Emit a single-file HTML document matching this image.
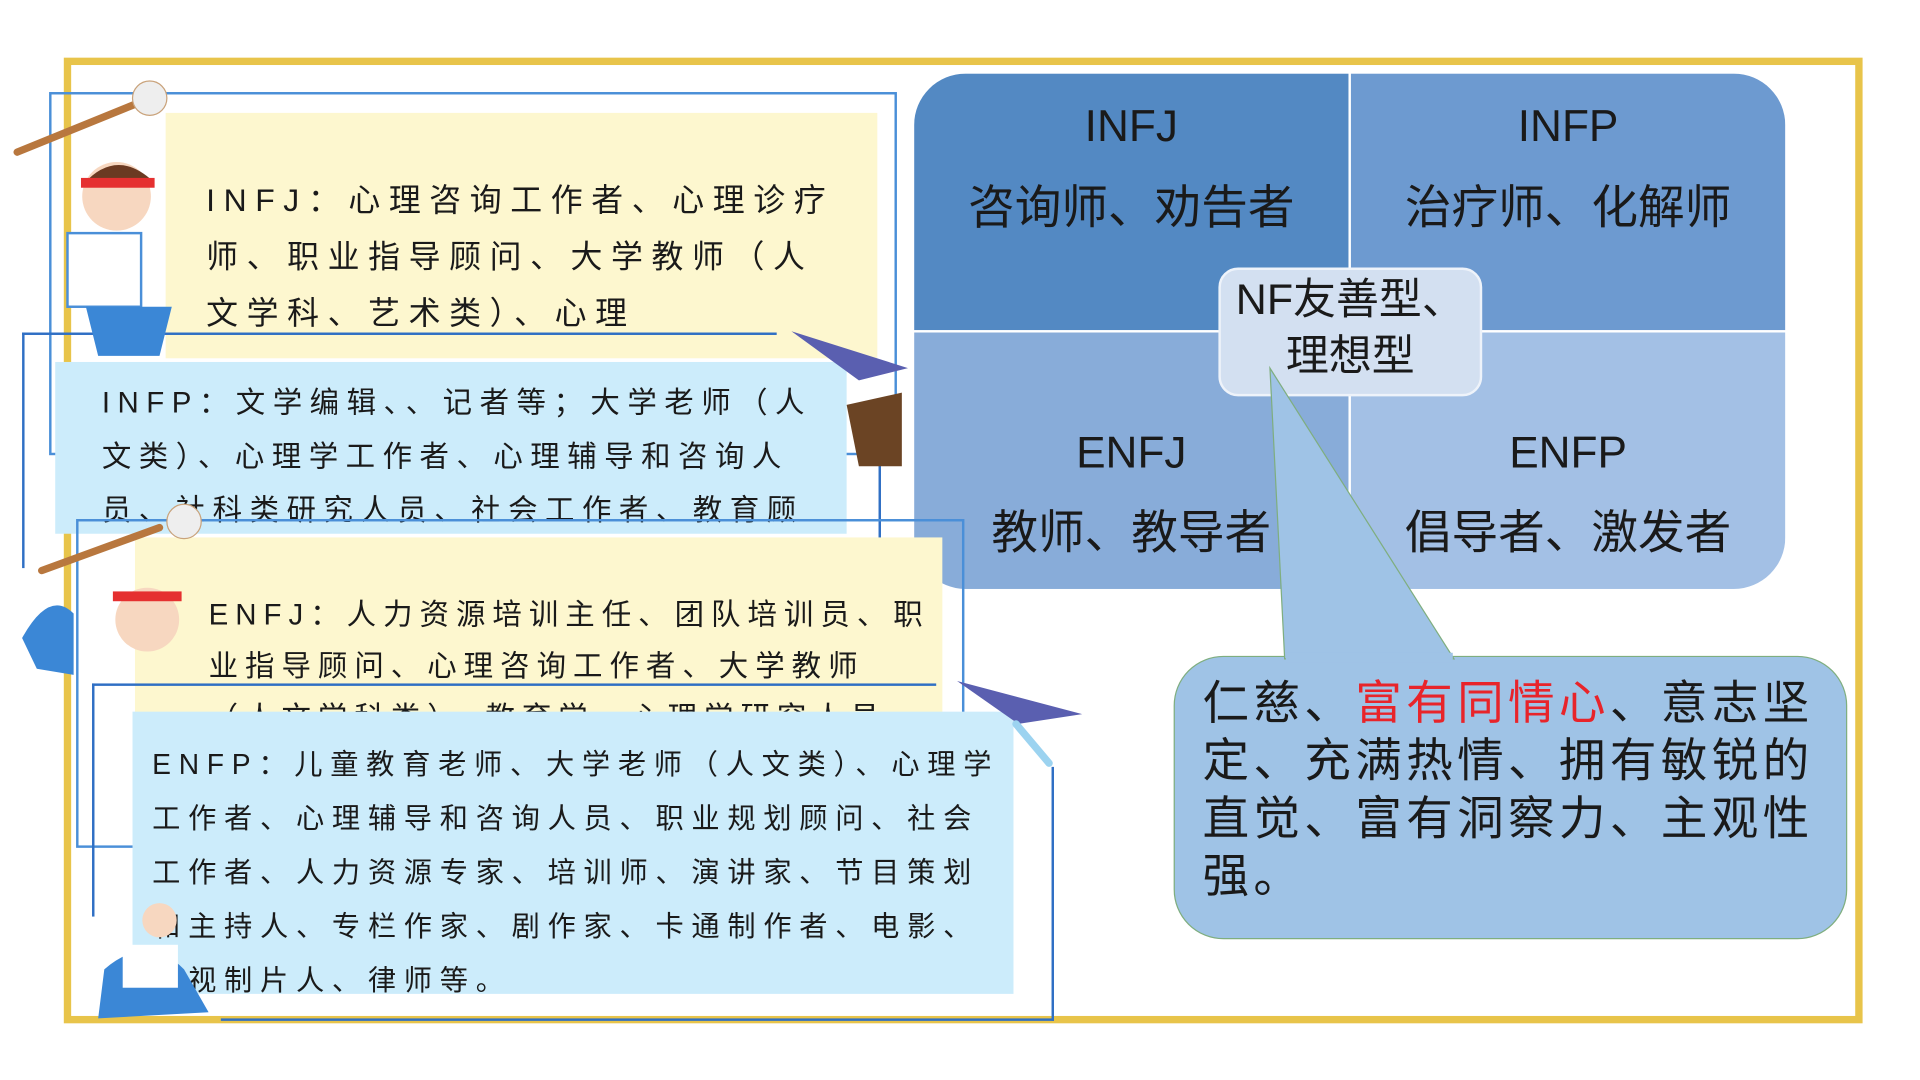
<!DOCTYPE html>
<html><head><meta charset="utf-8">
<style>
html,body{margin:0;padding:0;background:#fff;width:1920px;height:1080px;overflow:hidden}
#s{position:absolute;left:0;top:0;width:1552px;height:873px;transform:scale(1.227);transform-origin:0 0;font-family:"Liberation Sans","Noto Sans CJK SC",sans-serif;color:#1a1a1a}
.a{position:absolute;box-sizing:border-box}
.t{white-space:nowrap;position:absolute}
</style></head><body><div id="s">
<div class="a" style="left:52px;top:47px;width:1466px;height:787px;border:6px solid #e8c44a"></div>

<div class="a" style="left:745px;top:60px;width:710px;height:420px;border-radius:42px;overflow:hidden;background:#fff">
  <div class="a" style="left:0;top:0;width:354px;height:209px;background:#5389c3"></div>
  <div class="a" style="left:356px;top:0;width:354px;height:209px;background:#6d9ad0"></div>
  <div class="a" style="left:0;top:211px;width:354px;height:209px;background:#88acd9"></div>
  <div class="a" style="left:356px;top:211px;width:354px;height:209px;background:#a3c0e5"></div>
  <div class="t" style="left:0;width:354px;text-align:center;top:22px;font-size:36px">INFJ</div>
  <div class="t" style="left:0;width:354px;text-align:center;top:78px;font-size:38px">咨询师、劝告者</div>
  <div class="t" style="left:356px;width:354px;text-align:center;top:22px;font-size:36px">INFP</div>
  <div class="t" style="left:356px;width:354px;text-align:center;top:78px;font-size:38px">治疗师、化解师</div>
  <div class="t" style="left:0;width:354px;text-align:center;top:288px;font-size:36px">ENFJ</div>
  <div class="t" style="left:0;width:354px;text-align:center;top:343px;font-size:38px">教师、教导者</div>
  <div class="t" style="left:356px;width:354px;text-align:center;top:288px;font-size:36px">ENFP</div>
  <div class="t" style="left:356px;width:354px;text-align:center;top:343px;font-size:38px">倡导者、激发者</div>
</div>
<div class="a" style="left:993px;top:218px;width:215px;height:105px;background:#d3e0f1;border:2px solid #eef3fa;border-radius:16px;font-size:35px;line-height:46px;text-align:center;padding-top:2px">NF友善型、<br>理想型</div>

<svg class="a" style="left:0;top:0" width="1552" height="873">
  <rect x="957" y="535" width="548" height="230" rx="40" fill="#9fc3e6" stroke="#7fae7f" stroke-width="1"/>
  <polygon points="1035,300 1047,537 1185,537" fill="#9fc3e6" stroke="#7fae7f" stroke-width="1"/>
  <rect x="1048" y="532" width="136" height="8" fill="#9fc3e6"/>
</svg>
<div class="t" style="left:980px;top:551px;font-size:38px;line-height:47px;letter-spacing:3.5px">仁慈、<span style="color:#e8242a">富有同情心</span>、意志坚<br>定、充满热情、拥有敏锐的<br>直觉、富有洞察力、主观性<br>强。</div>

<div class="a" style="left:40px;top:75px;width:691px;height:296px;border:2px solid #4a8fd8"></div>
<div class="a" style="left:135px;top:92px;width:580px;height:200px;background:#fdf7cf;overflow:hidden">
 <div class="t" style="left:33px;top:48px;font-size:26px;line-height:46px;letter-spacing:7px">INFJ：心理咨询工作者、心理诊疗<br>师、职业指导顾问、大学教师（人<br>文学科、艺术类）、心理</div>
</div>
<div class="a" style="left:18px;top:271px;width:615px;height:2px;background:#2f6fc4"></div>
<div class="a" style="left:18px;top:271px;width:2px;height:192px;background:#2f6fc4"></div>
<div class="a" style="left:716px;top:340px;width:2px;height:100px;background:#2f6fc4"></div>
<div class="a" style="left:45px;top:295px;width:645px;height:140px;background:#ccecfb;overflow:hidden">
 <div class="t" style="left:38px;top:12px;font-size:24px;line-height:44px;letter-spacing:6.1px">INFP：文学编辑、、记者等；大学老师（人<br>文类）、心理学工作者、心理辅导和咨询人<br>员、社科类研究人员、社会工作者、教育顾</div>
</div>
<div class="a" style="left:62px;top:423px;width:724px;height:268px;border:2px solid #4a8fd8"></div>
<div class="a" style="left:110px;top:438px;width:658px;height:238px;background:#fdf7cf;overflow:hidden">
 <div class="t" style="left:60px;top:43px;font-size:24px;line-height:42px;letter-spacing:5.7px">ENFJ：人力资源培训主任、团队培训员、职<br>业指导顾问、心理咨询工作者、大学教师<br>（人文学科类）、教育学、心理学研究人员</div>
</div>
<div class="a" style="left:75px;top:557px;width:688px;height:2px;background:#2f6fc4"></div>
<div class="a" style="left:75px;top:557px;width:2px;height:190px;background:#2f6fc4"></div>
<div class="a" style="left:857px;top:625px;width:2px;height:207px;background:#2f6fc4"></div>
<div class="a" style="left:180px;top:830px;width:679px;height:2px;background:#2f6fc4"></div>
<div class="a" style="left:108px;top:580px;width:718px;height:230px;background:#ccecfb;overflow:hidden">
 <div class="t" style="left:16px;top:21px;font-size:23px;line-height:44px;letter-spacing:6.3px">ENFP：儿童教育老师、大学老师（人文类）、心理学<br>工作者、心理辅导和咨询人员、职业规划顾问、社会<br>工作者、人力资源专家、培训师、演讲家、节目策划<br>和主持人、专栏作家、剧作家、卡通制作者、电影、<br>电视制片人、律师等。</div>
</div>

<svg class="a" style="left:0;top:0" width="1552" height="873">
  <line x1="14" y1="124" x2="110" y2="85" stroke="#b8773e" stroke-width="6" stroke-linecap="round"/>
  <circle cx="122" cy="80" r="14" fill="#eee" stroke="#c9a27a"/>
  <circle cx="95" cy="160" r="28" fill="#f7d7c0"/>
  <path d="M68 150 Q95 120 125 148" fill="#6b3a22"/>
  <rect x="66" y="145" width="60" height="8" fill="#e53030"/>
  <rect x="55" y="190" width="60" height="60" fill="#fff" stroke="#4a8fd8" stroke-width="2"/>
  <path d="M70 250 L140 250 L130 290 L80 290Z" fill="#3b87d6"/>
  <polygon points="645,270 740,300 700,310" fill="#5a5fb0"/>
  <polygon points="690,330 735,320 735,380 700,380" fill="#6b4424"/>
  <line x1="34" y1="465" x2="130" y2="430" stroke="#b8773e" stroke-width="6" stroke-linecap="round"/>
  <circle cx="150" cy="425" r="14" fill="#eee" stroke="#c9a27a"/>
  <circle cx="120" cy="505" r="26" fill="#f7d7c0"/>
  <rect x="92" y="482" width="56" height="8" fill="#e53030"/>
  <path d="M18 520 Q40 480 60 500 L60 550 L30 545Z" fill="#3b87d6"/>
  <polygon points="780,555 882,582 830,590" fill="#5a5fb0"/>
  <line x1="828" y1="590" x2="855" y2="622" stroke="#9cd3f0" stroke-width="6" stroke-linecap="round"/>
  <circle cx="130" cy="750" r="14" fill="#f7d7c0"/>
  <path d="M85 790 Q120 760 150 790 L170 825 L80 830Z" fill="#3b87d6"/>
  <rect x="100" y="770" width="45" height="35" fill="#fff"/>
</svg>
</div></body></html>
